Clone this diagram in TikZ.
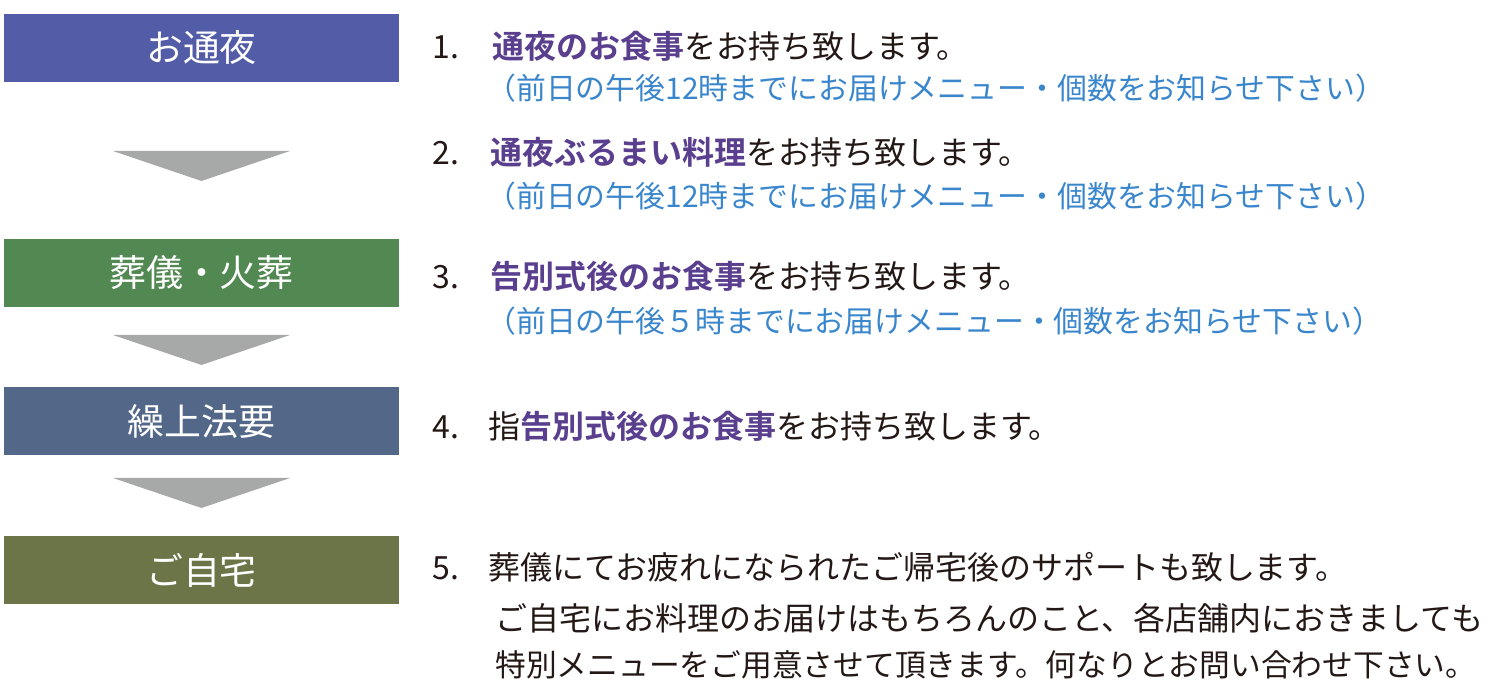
\documentclass[tikz,border=0pt]{standalone}
\usepackage{fontspec}
\setmainfont{Noto Sans CJK JP}[BoldFont={Noto Sans CJK JP Bold}]
\usetikzlibrary{positioning}
\definecolor{tsuyablue}{HTML}{535CA6}
\definecolor{sougigreen}{HTML}{528852}
\definecolor{houyouslate}{HTML}{536889}
\definecolor{jitakuolive}{HTML}{6C7547}
\definecolor{arrowgray}{HTML}{A7A9A8}
\definecolor{itempurple}{HTML}{5A3F8E}
\definecolor{noteblue}{HTML}{3A86CC}
\definecolor{inkblack}{HTML}{231815}
\newcommand{\hl}[1]{\textcolor{itempurple}{\textbf{#1}}}

\begin{document}
\begin{tikzpicture}[x=0.2mm, y=-0.2mm, text=inkblack,
	font=\fontsize{18.2pt}{22pt}\selectfont,
	stage/.style={minimum width=79mm, minimum height=13.6mm, inner sep=0pt,
		text=white, font=\fontsize{21pt}{24pt}\selectfont},
	itemnum/.style={anchor=base west, inner sep=0pt},
	itemtext/.style={anchor=base west, inner sep=0pt},
	note/.style={anchor=base west, inner sep=0pt, text=noteblue,
		font=\fontsize{17pt}{20pt}\selectfont},
	flowarrow/.style={fill=arrowgray}]

\useasboundingbox (0,0) rectangle (1500,690);

%========================
% Left: stages
%========================
\node[stage, fill=tsuyablue]   (tsuya)  at (201.5,48)  {お通夜};
\node[stage, fill=sougigreen]  (sougi)  at (201.5,273) {葬儀・火葬};
\node[stage, fill=houyouslate] (houyou) at (201.5,421) {繰上法要};
\node[stage, fill=jitakuolive] (jitaku) at (201.5,570) {ご自宅};

% arrows between stages
\foreach \t in {151,335,478}
	\fill[flowarrow] (113,\t) -- (290,\t) -- (201.5,\t+30) -- cycle;

%========================
% Right: services
%========================
% 1
\node[itemnum]  (num1)  at (432,59)  {1.};
\node[itemtext] (item1) at (492,59)  {\hl{通夜のお食事}をお持ち致します。};
\node[note]     (note1) at (486,100) {（前日の午後12時までにお届けメニュー・個数をお知らせ下さい）};

% 2
\node[itemnum]  (num2)  at (432,165) {2.};
\node[itemtext] (item2) at (490,165) {\hl{通夜ぶるまい料理}をお持ち致します。};
\node[note]     (note2) at (486,208) {（前日の午後12時までにお届けメニュー・個数をお知らせ下さい）};

% 3
\node[itemnum]  (num3)  at (432,289) {3.};
\node[itemtext] (item3) at (490,289) {\hl{告別式後のお食事}をお持ち致します。};
\node[note]     (note3) at (486,333) {（前日の午後５時までにお届けメニュー・個数をお知らせ下さい）};

% 4
\node[itemnum]  (num4)  at (432,439) {4.};
\node[itemtext] (item4) at (488,439) {指\hl{告別式後のお食事}をお持ち致します。};

% 5
\node[itemnum]  (num5)  at (432,580) {5.};
\node[itemtext] (item5) at (488,580) {葬儀にてお疲れになられたご帰宅後のサポートも致します。};
\node[itemtext] (item5b) at (495,631) {ご自宅にお料理のお届けはもちろんのこと、各店舗内におきましても};
\node[itemtext, font=\fontsize{17.5pt}{22pt}\selectfont] (item5c) at (495,676)
	{特別メニューをご用意させて頂きます。何なりとお問い合わせ下さい。};

\end{tikzpicture}
\end{document}
